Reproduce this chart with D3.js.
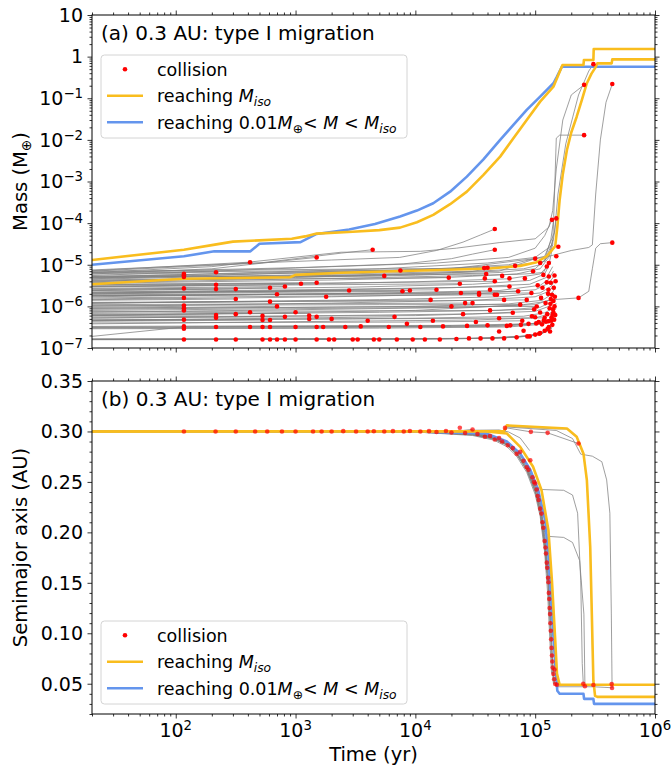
<!DOCTYPE html>
<html><head><meta charset="utf-8">
<script src="https://cdn.jsdelivr.net/npm/d3@7"></script>
<style>body{margin:0;background:#fff}svg{font-family:"DejaVu Sans",sans-serif}</style>
</head><body><svg id="c" width="672" height="769"></svg>
<script>
// ---------------- data ----------------
const X_DOMAIN = [20, 1e6];
const M_DOMAIN = [1e-7, 10];
const A_DOMAIN = [0.02, 0.35];
const X_TICK_EXP = [2, 3, 4, 5, 6];
const M_TICK_EXP = [-7, -6, -5, -4, -3, -2, -1, 0, 1];
const A_TICKS = [0.05, 0.10, 0.15, 0.20, 0.25, 0.30, 0.35];
const TITLES = ["(a) 0.3 AU: type I migration", "(b) 0.3 AU: type I migration"];

// Panel (a): mass [time(yr), mass(M_earth)]
const YEL1_M = [[20,1.3e-5],[117,2.3e-5],[206,3.0e-5],[300,3.6e-5],[930,4.2e-5],[1200,4.8e-5],[1500,5.6e-5],[3000,6.2e-5],[5000,6.8e-5],[7450,7.8e-5],[1.03e4,1.05e-4],[1.41e4,1.58e-4],[1.95e4,2.85e-4],[2.69e4,5.7e-4],[3.7e4,1.44e-3],[5.1e4,3.96e-3],[6.58e4,1.09e-2],[8.5e4,0.0301],[1.1e5,0.083],[1.42e5,0.19],[1.56e5,0.363],[1.69e5,0.63],[2.53e5,0.63],[2.55e5,0.83],[3.06e5,0.83],[3.08e5,1.53],[1e6,1.53]];
const YEL2_M = [[20,3.4e-6],[117,4.6e-6],[900,5.0e-6],[1000,5.7e-6],[2400,6.4e-6],[1.6e4,7.5e-6],[4.2e4,8.1e-6],[7.5e4,9.4e-6],[1.03e5,1.15e-5],[1.25e5,1.6e-5],[1.47e5,2.8e-5],[1.53e5,8e-5],[1.6e5,3.6e-4],[1.7e5,1.5e-3],[1.84e5,5.7e-3],[2.0e5,0.015],[2.22e5,0.036],[2.45e5,0.09],[2.7e5,0.23],[2.95e5,0.39],[3.16e5,0.53],[3.3e5,0.69],[4.35e5,0.69],[4.4e5,0.86],[1e6,0.86]];
const BLUE_M = [[20,1.0e-5],[117,1.6e-5],[210,2.1e-5],[420,2.1e-5],[500,3.2e-5],[1100,3.5e-5],[1500,5.5e-5],[2800,7.0e-5],[4600,9.5e-5],[7450,1.44e-4],[1.03e4,2.0e-4],[1.41e4,3.0e-4],[1.95e4,5.7e-4],[2.69e4,1.31e-3],[3.7e4,3.4e-3],[5.1e4,1.0e-2],[6.58e4,0.0229],[8.5e4,0.0524],[1.1e5,0.109],[1.42e5,0.229],[1.52e5,0.33],[1.67e5,0.57],[1e6,0.57]];
const GRAY_M = [
 [[20,7.5e-6],[200,1.0e-5],[2e3,1.3e-5],[7.4e3,1.5e-5],[1.5e4,2.2e-5],[2.5e4,3.5e-5],[3.5e4,5.2e-5],[4.6e4,7.2e-5]],
 [[20,6.5e-6],[1e3,8.5e-6],[8e3,1.05e-5],[2e4,1.4e-5],[3e4,1.8e-5],[4.6e4,2.3e-5]],
 [[20,6.0e-6],[200,8.0e-6],[700,1.2e-5],[1.5e3,1.5e-5]],
 [[20,7.0e-6],[500,1.1e-5],[2.4e3,1.9e-5],[4.4e3,2.3e-5]],
 [[20,7.2e-6],[400,1.15e-5],[2.4e3,2.0e-5],[1.1e4,2.1e-5],[2.2e4,2.5e-5],[5e4,3.4e-5],[1.0e5,4.2e-5],[1.3e5,8e-5],[1.4e5,2e-4],[1.5e5,2e-3],[1.7e5,0.03],[2.0e5,0.12],[2.56e5,0.21]],
 [[20,5.5e-6],[2e3,9e-6],[1.5e4,1.1e-5],[6e4,1.5e-5],[1.0e5,2.5e-5],[1.2e5,5e-5],[1.38e5,1.2e-4]],
 [[20,5.0e-6],[5e3,8e-6],[4e4,1.1e-5],[1.0e5,1.5e-5],[1.4e5,3e-5],[1.45e5,5e-4],[1.5e5,0.011],[1.6e5,0.013],[2.56e5,0.013]],
 [[20,4.8e-6],[1e4,7.5e-6],[6e4,1.0e-5],[1.2e5,1.6e-5],[1.45e5,6e-5],[1.55e5,5e-4],[1.8e5,8e-3],[2.3e5,0.12],[2.8e5,0.45],[3.06e5,0.66]],
 [[20,4.5e-6],[3e4,7e-6],[1.2e5,1.2e-5],[1.42e5,4e-5],[1.5e5,1.3e-4]],
 [[20,6.0e-7],[1e4,8e-7],[8e4,1.1e-6],[1.1e5,1.25e-6],[1.4e5,1.45e-6],[2.3e5,1.6e-6],[2.8e5,2.3e-6],[3.0e5,8e-6],[3.2e5,2.5e-5],[3.5e5,3.2e-5],[4.4e5,3.4e-5]],
 [[20,5.2e-6],[2e4,8e-6],[1.2e5,1.5e-5],[2.0e5,2.2e-5],[2.8e5,2.6e-5],[3.0e5,3e-5],[3.2e5,5e-4],[3.5e5,0.01],[3.9e5,0.08],[4.4e5,0.22]],
 [[20,4.0e-6],[2e3,5.5e-6],[2e4,6.5e-6],[8e4,8e-6],[1.1e5,1.0e-5],[1.3e5,1.6e-5],[1.4e5,3e-5]],
 [[20,3.9e-6],[1e3,5.0e-6],[1e4,6.0e-6],[5e4,7e-6],[1.0e5,1.4e-5]],
 [[20,4.6e-6],[500,6e-6],[5e3,7e-6],[3e4,8.5e-6],[6.8e4,9.4e-6]],
 [[20,3.7e-6],[3e3,4.8e-6],[3e4,5.5e-6],[8.2e4,6e-6],[1.17e5,6.5e-6],[1.3e5,1.1e-5]],
 [[20,4.3e-6],[1e3,5.0e-6],[1e4,5.6e-6],[5e4,6.5e-6],[1e5,8.0e-6],[1.2e5,1.3e-5],[1.35e5,4e-5],[1.42e5,1.1e-4]],
 [[20,3.6e-6],[2e3,4.3e-6],[2e4,5.0e-6],[7e4,6e-6],[1.1e5,8e-6],[1.3e5,1.5e-5],[1.4e5,4e-5]],
 [[20,2.9e-6],[1e3,3.4e-6],[1e4,3.9e-6],[6e4,4.6e-6],[1.1e5,6e-6],[1.3e5,1.0e-5],[1.38e5,2.2e-5]],
 [[20,2.4e-6],[3e3,2.9e-6],[3e4,3.4e-6],[9e4,4.2e-6],[1.2e5,6e-6],[1.35e5,1.2e-5]],
 [[20,2.0e-6],[1e3,2.4e-6],[2e4,2.8e-6],[9e4,3.4e-6],[1.25e5,5e-6],[1.4e5,9e-6]],
 [[20,1.7e-6],[5e3,2.1e-6],[5e4,2.4e-6],[1.1e5,3.2e-6],[1.3e5,4.5e-6],[1.42e5,7e-6]],
 [[20,1.45e-6],[2e3,1.7e-6],[3e4,2.0e-6],[1e5,2.5e-6],[1.3e5,3.6e-6],[1.45e5,5.5e-6]],
 [[20,1.2e-6],[5e3,1.45e-6],[5e4,1.7e-6],[1.1e5,2.1e-6],[1.35e5,3e-6],[1.45e5,4e-6]],
 [[20,1.0e-6],[2e3,1.2e-6],[3e4,1.4e-6],[1e5,1.7e-6],[1.3e5,2.3e-6],[1.45e5,3.2e-6]],
 [[20,8.5e-7],[1e4,1.0e-6],[6e4,1.15e-6],[1.15e5,1.4e-6],[1.35e5,1.9e-6],[1.45e5,2.6e-6]],
 [[20,7.2e-7],[1e3,8.3e-7],[3e4,9.5e-7],[1e5,1.1e-6],[1.3e5,1.4e-6],[1.46e5,2e-6]],
 [[20,6.2e-7],[5e3,7.2e-7],[5e4,8e-7],[1.1e5,9.5e-7],[1.35e5,1.25e-6],[1.48e5,1.7e-6]],
 [[20,5.2e-7],[2e3,6.0e-7],[3e4,6.6e-7],[1e5,7.6e-7],[1.3e5,1.0e-6],[1.48e5,1.4e-6]],
 [[20,4.5e-7],[1e4,5.2e-7],[8e4,5.8e-7],[1.2e5,7e-7],[1.4e5,9e-7],[1.5e5,1.2e-6]],
 [[20,3.8e-7],[1e3,4.3e-7],[3e4,4.7e-7],[1e5,5.3e-7],[1.3e5,6.5e-7],[1.5e5,9e-7]],
 [[20,3.2e-7],[1e4,3.3e-7],[8e4,3.6e-7],[1.2e5,4.3e-7],[1.4e5,5.5e-7],[1.5e5,7e-7]],
 [[20,3.1e-7],[2e3,3.2e-7],[4e4,3.4e-7],[1e5,3.9e-7],[1.3e5,4.8e-7],[1.45e5,6.2e-7]],
 [[20,2.9e-7],[5e3,3.0e-7],[6e4,3.2e-7],[1.1e5,3.7e-7],[1.35e5,4.6e-7],[1.48e5,6e-7]],
 [[20,1.9e-7],[117,3.2e-7],[1e3,3.3e-7],[2e4,3.4e-7]],
 [[20,1.62e-7],[1e4,1.65e-7],[5e4,1.75e-7],[9e4,1.95e-7],[1.15e5,2.4e-7],[1.3e5,3.2e-7],[1.4e5,4.2e-7]],
 [[20,1.6e-7],[2e4,1.65e-7],[7e4,1.8e-7],[1.1e5,2.1e-7],[1.3e5,2.7e-7],[1.42e5,3.5e-7]],
 [[20,1.58e-7],[3e3,1.62e-7],[4e4,1.7e-7],[1e5,2e-7],[1.25e5,2.5e-7],[1.38e5,3e-7]],
 [[20,1.6e-7],[500,1.6e-7],[2e3,1.62e-7],[1e4,1.64e-7]],
 [[20,2.2e-6],[3e3,2.6e-6],[3e4,2.9e-6],[6.1e4,3.0e-6]],
 [[20,1.9e-6],[1e3,2.0e-6],[1e4,2.1e-6],[7.2e4,2.3e-6]],
 [[20,9e-7],[1e3,9.5e-7],[2e4,1.0e-6],[1.03e5,9.9e-7]],
 [[20,7.5e-7],[5e3,7.8e-7],[4.2e4,8e-7],[9.8e4,8.5e-7]],
 [[20,5.6e-7],[1e4,6e-7],[6.5e4,7e-7]],
 [[20,4.8e-7],[3e3,5e-7],[5e4,5.2e-7],[1.2e5,5.3e-7]],
 [[20,4.0e-7],[1e4,4.2e-7],[7.8e4,4.5e-7]],
 [[20,3.3e-7],[2e4,3.5e-7],[8.8e4,3.8e-7]],
 [[20,3.0e-7],[1e3,3.05e-7],[5e4,3.3e-7],[1.2e5,4e-7],[1.4e5,5e-7]],
 [[20,1.65e-7],[3e4,1.7e-7],[8e4,1.9e-7],[1.2e5,2.4e-7],[1.35e5,3e-7]],
 [[20,1.63e-7],[1e4,1.66e-7],[5e4,1.72e-7],[1e5,2.05e-7]],
 [[20,3.3e-6],[1e3,3.6e-6],[4.6e4,4.0e-6]],
 [[20,1.25e-6],[1e4,1.35e-6],[8.5e4,1.43e-6]],
 [[20,1.05e-6],[5e3,1.1e-6],[7.5e4,1.1e-6]],
 [[20,1.8e-6],[2e4,2.0e-6],[9.3e4,2.1e-6]],
 [[20,6.0e-6],[117,6.1e-6]],[[20,5.3e-6],[117,5.5e-6]],[[20,2.5e-6],[117,2.7e-6]],
 [[20,1.5e-6],[117,1.6e-6]],[[20,9.5e-7],[117,1.0e-6]],[[20,4.6e-7],[117,4.8e-7]],
 [[20,6.3e-6],[217,6.6e-6]],[[20,3.0e-6],[217,3.3e-6]],[[20,6.0e-7],[217,6.2e-7]],
 [[20,2.4e-6],[317,2.6e-6]],[[20,1.4e-6],[317,1.5e-6]],[[20,6.5e-6],[200,9e-6],[417,1.15e-5]],
 [[20,6.8e-7],[417,7.2e-7]],[[20,2.6e-6],[612,2.8e-6]],[[20,1.2e-6],[612,1.3e-6]],
 [[20,4.4e-7],[612,4.7e-7]],[[20,1.8e-6],[700,1.95e-6]],[[20,9e-7],[700,1.0e-6]],
 [[20,2.7e-6],[815,3.0e-6]],[[20,5.3e-7],[815,5.6e-7]],[[20,3.2e-6],[1110,3.5e-6]],
 [[20,3.4e-6],[1500,3.7e-6]],[[20,6.4e-7],[1300,6.8e-7]],[[20,2.1e-6],[2800,2.4e-6]],
 [[20,5.0e-6],[5500,5.4e-6]],[[20,6.6e-6],[7500,7.3e-6]],[[20,2.0e-6],[7800,2.3e-6]],
 [[20,2.1e-6],[9000,2.4e-6]],[[20,1.2e-6],[1.34e4,1.43e-6]],[[20,4.6e-7],[6700,5.6e-7]],
 [[20,4.2e-6],[1.9e4,4.9e-6]],[[20,3.0e-6],[2.35e4,3.5e-6]],[[20,7.0e-6],[3.75e4,8.3e-6]],
 [[20,5.0e-6],[3.95e4,6.0e-6]],[[20,1.8e-6],[3.4e4,2.1e-6]],[[20,1.6e-6],[4.6e4,1.9e-6]],
 [[20,8e-7],[2e4,9.5e-7]],[[20,2.2e-6],[1.5e4,2.5e-6]],[[20,1.1e-6],[3e4,1.2e-6]]
];
const DOTS_M = [
 [117,6.1e-6],[117,5.6e-6],[117,5.1e-6],[117,2.7e-6],[117,1.6e-6],[117,1.05e-6],[117,9.0e-7],[117,8.0e-7],[117,4.8e-7],[117,3.3e-7],[117,2.9e-7],[117,1.6e-7],
 [217,6.6e-6],[217,3.3e-6],[217,2.6e-6],[217,6.2e-7],[217,5.3e-7],[217,3.2e-7],[217,1.6e-7],
 [317,2.6e-6],[317,1.5e-6],[317,6.5e-7],[317,1.6e-7],[417,1.15e-5],[417,7.2e-7],[417,3.2e-7],
 [530,5.9e-7],[530,4.7e-7],[530,3.2e-7],[530,1.6e-7],[612,2.8e-6],[612,1.3e-6],[612,4.7e-7],[612,3.2e-7],[612,1.6e-7],
 [700,1.95e-6],[700,1.0e-6],[700,1.6e-7],[815,3.0e-6],[815,5.6e-7],[815,1.6e-7],
 [1000,7.2e-7],[1000,3.2e-7],[1000,1.6e-7],[1110,3.5e-6],[1300,6.0e-7],[1300,5.0e-7],
 [1500,1.5e-5],[1500,3.7e-6],[1500,5.6e-7],[1500,3.2e-7],[1500,1.6e-7],
 [1700,3.2e-7],[1800,1.7e-6],[1900,1.6e-7],[2000,5.0e-7],[2100,1.6e-7],
 [2600,3.2e-7],[2800,2.4e-6],[3000,1.6e-7],[3300,1.6e-7],[3500,3.3e-7],[4000,4.5e-7],[4400,2.3e-5],[4500,1.6e-7],[5000,1.6e-7],[5500,5.4e-6],[6000,3.2e-7],[6700,5.6e-7],[7000,1.6e-7],[7500,7.3e-6],[7800,2.3e-6],[8500,3.8e-7],[9000,2.4e-6],[9500,1.6e-7],
 [1.1e4,3.2e-7],[1.2e4,1.6e-7],[1.34e4,1.43e-6],[1.4e4,4.5e-7],[1.5e4,2.5e-6],[1.6e4,1.6e-7],[1.7e4,3.3e-7],[1.9e4,4.9e-6],[2.0e4,1.0e-6],[2.2e4,1.65e-7],[2.35e4,3.5e-6],[2.4e4,2.1e-6],[2.5e4,6.5e-7],[2.6e4,1.2e-6],[2.7e4,3.4e-7],[2.8e4,1.7e-7],[3.0e4,1.2e-6],[3.2e4,4.2e-7],[3.4e4,1.9e-6],[3.4e4,2.1e-6],[3.5e4,1.7e-7],[3.75e4,8.3e-6],[3.8e4,4.7e-6],[3.9e4,6.0e-6],[4.0e4,8.5e-6],[4.0e4,3.5e-7],[4.2e4,2.5e-6],[4.2e4,8e-7],[4.4e4,1.7e-7],[4.6e4,2.3e-5],[4.6e4,7.2e-5],[4.6e4,1.9e-6],[4.6e4,4.0e-6],[4.8e4,1.9e-6],
 [5.0e4,2.5e-7],[5.0e4,5.2e-7],[5.3e4,5.4e-6],[5.5e4,1.43e-6],[5.5e4,1.7e-7],[5.8e4,3.4e-7],[6.1e4,4.7e-6],[6.1e4,3.0e-6],[6.2e4,3.5e-7],[6.5e4,7e-7],[6.8e4,9.4e-6],[7.0e4,1.8e-7],[7.2e4,2.3e-6],[7.5e4,1.1e-6],[7.6e4,3.6e-7],[7.8e4,4.5e-7],[8.0e4,2.6e-7],[8.2e4,4.7e-6],[8.5e4,1.43e-6],[8.6e4,1.9e-7],[8.8e4,3.8e-7],[9.0e4,1.9e-7],[9.3e4,2.1e-6],[9.4e4,5.8e-7],[9.6e4,7e-6],[9.8e4,8.5e-7],
 [1.0e5,1.4e-5],[1.0e5,2.1e-7],[1.0e5,5.5e-7],[1.02e5,3.9e-7],[1.03e5,9.9e-7],[1.05e5,3.2e-6],[1.07e5,4.2e-7],[1.08e5,2.2e-7],[1.1e5,1.1e-5],[1.1e5,7.1e-7],[1.1e5,2.3e-7],[1.12e5,1.6e-6],[1.14e5,3.7e-7],[1.15e5,2.8e-6],[1.17e5,5.7e-6],[1.18e5,4.6e-7],[1.2e5,5.3e-7],[1.2e5,2.6e-7],[1.22e5,1.2e-6],[1.23e5,4.3e-7],[1.25e5,9.1e-6],[1.25e5,3.8e-6],[1.26e5,6.5e-7],[1.27e5,2.9e-7],[1.28e5,2.0e-6],[1.29e5,2.5e-6],[1.29e5,4.4e-7],[1.3e5,1.1e-5],[1.3e5,5.2e-6],[1.3e5,3.2e-7],[1.32e5,9e-7],[1.33e5,2.5e-7],[1.34e5,1.15e-6],[1.35e5,3.7e-6],[1.35e5,1.5e-6],[1.36e5,4.5e-7],[1.37e5,5.5e-7],[1.38e5,1.9e-6],[1.38e5,1.2e-4],[1.39e5,3.6e-7],[1.4e5,6.5e-7],[1.41e5,8.5e-7],[1.42e5,1.35e-6],[1.42e5,7.1e-7],[1.43e5,2.8e-6],[1.44e5,4.8e-7],[1.45e5,5.5e-6],[1.45e5,1.0e-6],[1.46e5,1.7e-6],[1.47e5,6.2e-7],[1.48e5,4.0e-6],[1.5e5,1.6e-5],[1.5e5,1.3e-4],[1.56e5,2.7e-5],
 [2.3e5,1.6e-6],[2.56e5,0.013],[2.56e5,0.21],[3.06e5,0.66],[4.4e5,0.22],[4.4e5,3.4e-5]
];

// Panel (b): semimajor axis [time(yr), a(AU)]
const YEL1_A = [[20,0.300],[3.9e4,0.300],[5.8e4,0.298],[7.5e4,0.2847],[9.6e4,0.265],[1.13e5,0.2417],[1.29e5,0.202],[1.38e5,0.152],[1.47e5,0.093],[1.52e5,0.060],[1.6e5,0.049],[1e6,0.049]];
const YEL2_A = [[20,0.300],[5.5e4,0.3005],[5.8e4,0.306],[1.84e5,0.303],[2.22e5,0.2947],[2.53e5,0.278],[2.7e5,0.2517],[2.88e5,0.1854],[2.97e5,0.119],[3.06e5,0.053],[3.16e5,0.038],[3.3e5,0.037],[1e6,0.037]];
const BLUE_A = [[20,0.300],[1e4,0.300],[3.9e4,0.298],[5.8e4,0.290],[7.5e4,0.278],[9.1e4,0.262],[1.06e5,0.242],[1.21e5,0.212],[1.29e5,0.176],[1.38e5,0.119],[1.47e5,0.070],[1.53e5,0.043],[1.6e5,0.040],[2.53e5,0.040],[2.56e5,0.035],[3.06e5,0.035],[3.1e5,0.030],[1e6,0.030]];
const GRAY_A = [
 [[20,0.300],[117,0.300]],[[20,0.300],[317,0.300]],[[20,0.300],[1.4e3,0.300]],[[20,0.300],[4.5e3,0.300]],[[20,0.300],[1.1e4,0.300]],
 [[20,0.300],[2.35e4,0.3005],[3e4,0.302]],
 [[20,0.300],[1e4,0.3002],[3e4,0.3012],[5e4,0.3015],[6e4,0.2995],[7.5e4,0.2935],[9e4,0.281]],
 [[20,0.300],[1e4,0.2995],[3e4,0.2965],[4.5e4,0.2925],[5.8e4,0.2865],[7e4,0.2775],[8.5e4,0.262],[1e5,0.241],[1.1e5,0.221],[1.2e5,0.188],[1.28e5,0.148],[1.34e5,0.098],[1.39e5,0.064],[1.42e5,0.050]],
 [[20,0.300],[1e4,0.300],[3e4,0.2975],[4.5e4,0.294],[5.8e4,0.288],[7e4,0.2795],[8.5e4,0.265],[1e5,0.245],[1.1e5,0.226],[1.2e5,0.196],[1.28e5,0.158],[1.35e5,0.105],[1.4e5,0.068],[1.44e5,0.050],[1.5e5,0.049],[2.55e5,0.049]],
 [[20,0.300],[1e4,0.300],[3e4,0.298],[4.5e4,0.2935],[5.8e4,0.2875],[7e4,0.279],[8.5e4,0.2645],[1e5,0.244]],
 [[20,0.300],[1e4,0.2998],[3e4,0.2978],[4.5e4,0.2945],[5.8e4,0.289],[7e4,0.281],[8e4,0.272]],
 [[20,0.300],[1e4,0.300],[3e4,0.2985],[4.5e4,0.2955],[5.8e4,0.2895]],
 [[20,0.300],[1e4,0.300],[2.5e4,0.2985],[3.8e4,0.2947]],
 [[20,0.300],[1e4,0.2995],[3e4,0.296],[4.5e4,0.2915],[5.8e4,0.285],[7e4,0.2755],[8.5e4,0.2595],[1e5,0.2375],[1.1e5,0.216],[1.2e5,0.180],[1.27e5,0.140],[1.33e5,0.090],[1.37e5,0.060]],
 [[20,0.300],[1e4,0.2998],[3e4,0.2968],[4.5e4,0.2928],[5.8e4,0.2868],[7e4,0.2772],[8.5e4,0.2615],[1e5,0.240],[1.1e5,0.219],[1.2e5,0.185],[1.25e5,0.160]],
 [[20,0.300],[1e4,0.300],[3e4,0.2972],[4.5e4,0.2935],[5.8e4,0.2878],[7e4,0.2785],[8.5e4,0.2635],[1e5,0.2425],[1.1e5,0.2235],[1.2e5,0.192],[1.26e5,0.165]],
 [[20,0.300],[1e4,0.300],[3e4,0.297],[4.5e4,0.293],[5.8e4,0.2868],[7e4,0.2778],[8.5e4,0.2625],[1e5,0.2415],[1.1e5,0.2215],[1.2e5,0.189],[1.28e5,0.150],[1.33e5,0.119]],
 [[20,0.300],[1e4,0.300],[3e4,0.2982],[4.5e4,0.295],[5.8e4,0.2895],[7e4,0.2815],[8.5e4,0.2675],[1e5,0.2475],[1.1e5,0.229],[1.2e5,0.200],[1.28e5,0.162],[1.35e5,0.110],[1.4e5,0.072],[1.45e5,0.052],[1.5e5,0.047],[3.06e5,0.047],[4.4e5,0.046]],
 [[20,0.300],[1e4,0.300],[3e4,0.2982],[4.5e4,0.295],[5.8e4,0.2895],[7e4,0.2815],[8.5e4,0.2675],[1e5,0.2475],[1.12e5,0.2425],[1.73e5,0.2417],[2.05e5,0.237],[2.26e5,0.219],[2.4e5,0.152],[2.47e5,0.070],[2.52e5,0.050]],
 [[20,0.300],[1e4,0.300],[3e4,0.2982],[4.5e4,0.295],[5.8e4,0.2895],[7e4,0.2815],[8.5e4,0.2675],[1e5,0.2475],[1.1e5,0.229],[1.2e5,0.2005],[1.3e5,0.196],[1.73e5,0.195],[2.05e5,0.190],[2.35e5,0.172],[2.55e5,0.119],[2.6e5,0.050]],
 [[20,0.300],[5.6e4,0.3005],[5.7e4,0.3045],[1.5e5,0.301],[2.05e5,0.293],[2.4e5,0.2775],[3.0e5,0.2755],[3.6e5,0.270],[3.95e5,0.252],[4.2e5,0.219],[4.32e5,0.120],[4.38e5,0.050],[4.4e5,0.0457]],
 [[20,0.300],[5.6e4,0.3005],[5.7e4,0.305],[1.5e5,0.3025],[1.84e5,0.3025],[2.22e5,0.294],[2.53e5,0.277],[2.7e5,0.251],[2.88e5,0.185],[2.97e5,0.119],[3.04e5,0.052],[3.1e5,0.048]],
 [[20,0.300],[5.6e4,0.300],[5.8e4,0.3035],[9.2e4,0.2996],[1.27e5,0.2986],[2.3e5,0.288]]
];
const DOTS_A = [
 [117,0.300],[215,0.300],[317,0.300],[460,0.300],[580,0.300],[770,0.300],[1000,0.300],[1400,0.300],[1650,0.300],[2000,0.300],[2500,0.3003],[3200,0.300],[4000,0.300],[4500,0.3002],[5500,0.300],[6500,0.3003],[8000,0.300],[9000,0.3005],[1.1e4,0.300],[1.3e4,0.3003],[1.5e4,0.2995],[1.8e4,0.3005],[2.0e4,0.299],
 [2.35e4,0.3036],[2.6e4,0.2985],[3.0e4,0.302],[3.3e4,0.2975],[3.8e4,0.2947],[4.2e4,0.2955],[4.6e4,0.292],[5.0e4,0.2935],[5.3e4,0.290],[5.6e4,0.3035],[5.9e4,0.2864],[6.5e4,0.2835],[7.0e4,0.2778],[7.5e4,0.2798],[8.0e4,0.271],[8.5e4,0.2645],[8.8e4,0.262],[9.1e4,0.2715],[9.2e4,0.2996],[9.5e4,0.2545],[9.8e4,0.250],[1.0e5,0.2484],[1.03e5,0.2425],[1.05e5,0.236],[1.07e5,0.232],[1.1e5,0.2235],[1.13e5,0.2186],[1.15e5,0.210],[1.17e5,0.2045],[1.2e5,0.1915],[1.22e5,0.185],[1.23e5,0.179],[1.25e5,0.170],[1.26e5,0.165],[1.27e5,0.2986],[1.28e5,0.155],[1.29e5,0.1505],[1.3e5,0.140],[1.31e5,0.134],[1.32e5,0.125],[1.33e5,0.119],[1.34e5,0.110],[1.35e5,0.1025],[1.36e5,0.094],[1.37e5,0.0855],[1.38e5,0.078],[1.39e5,0.072],[1.4e5,0.066],[1.42e5,0.0596],[1.44e5,0.0545],[1.45e5,0.064],[1.47e5,0.0497],[1.52e5,0.049],
 [2.3e5,0.288],[2.52e5,0.050],[2.6e5,0.0475],[3.06e5,0.0487],[4.35e5,0.0497],[4.38e5,0.0457]
];

// ---------------- layout & style ----------------
const L = 92, R = 655;
const PA = {top: 15, bot: 348}, PB = {top: 381, bot: 714};
const YELLOW = "#f9bd1e", BLUE = "#6495ed", GRAY = "#808080", RED = "#ff0000";
const FONT_TICK = 19, FONT_LAB = 19.5, FONT_TITLE = 20, FONT_LEG = 17.5;

const svg = d3.select("#c");
const x = d3.scaleLog().domain(X_DOMAIN).range([L, R]);
const yM = d3.scaleLog().domain(M_DOMAIN).range([PA.bot, PA.top]);
const yA = d3.scaleLinear().domain(A_DOMAIN).range([PB.bot, PB.top]);

const defs = svg.append("defs");
[["clipA", PA], ["clipB", PB]].forEach(([id, p]) => {
  defs.append("clipPath").attr("id", id).append("rect")
    .attr("x", L).attr("y", p.top).attr("width", R - L).attr("height", p.bot - p.top);
});

function panel(clipId, y, grays, yel1, yel2, blue, dots, dotOpacity) {
  const g = svg.append("g").attr("clip-path", `url(#${clipId})`);
  const line = d3.line().x(d => x(d[0])).y(d => y(d[1]));
  g.selectAll("path.gray").data(grays).join("path").attr("class", "gray")
    .attr("d", line).attr("fill", "none").attr("stroke", GRAY)
    .attr("stroke-width", 0.95).attr("stroke-opacity", 0.8);
  [[blue, BLUE], [yel2, YELLOW], [yel1, YELLOW]].forEach(([d, c]) => {
    g.append("path").datum(d).attr("d", line).attr("fill", "none")
      .attr("stroke", c).attr("stroke-width", 2.6).attr("stroke-linejoin", "round");
  });
  g.selectAll("circle").data(dots).join("circle")
    .attr("cx", d => x(d[0])).attr("cy", d => y(d[1])).attr("r", 2.3)
    .attr("fill", RED).attr("fill-opacity", dotOpacity);
}
panel("clipA", yM, GRAY_M, YEL1_M, YEL2_M, BLUE_M, DOTS_M, 1);
panel("clipB", yA, GRAY_A, YEL1_A, YEL2_A, BLUE_A, DOTS_A, 0.7);

// ---------------- ticks ----------------
function tickSet(axisFn, scale, vals, size, tx, ty) {
  const a = axisFn(scale).tickValues(vals).tickSize(size).tickFormat(() => "");
  const s = svg.append("g").attr("transform", `translate(${tx},${ty})`).call(a);
  s.select(".domain").remove();
  s.selectAll("line").attr("stroke", "#000").attr("stroke-width", 0.8);
  s.selectAll("text").remove();
}
const xMaj = X_TICK_EXP.map(e => Math.pow(10, e));
const xMin = [];
for (let k = 1; k <= 5; k++) for (let j = 2; j <= 9; j++) { const v = j * Math.pow(10, k); if (v >= X_DOMAIN[0] && v <= X_DOMAIN[1]) xMin.push(v); }
const mMaj = M_TICK_EXP.map(e => Math.pow(10, e));
const mMin = [];
for (let k = -7; k <= 0; k++) for (let j = 2; j <= 9; j++) mMin.push(j * Math.pow(10, k));
const aMin = [];
for (let i = 2; i <= 35; i++) if (i % 5 !== 0) aMin.push(i / 100);

[PA, PB].forEach(p => {
  tickSet(d3.axisBottom, x, xMaj, 4.5, 0, p.bot);
  tickSet(d3.axisBottom, x, xMin, 2.5, 0, p.bot);
  tickSet(d3.axisTop, x, xMaj, 4.5, 0, p.top);
  tickSet(d3.axisTop, x, xMin, 2.5, 0, p.top);
});
tickSet(d3.axisLeft, yM, mMaj, 4.5, L, 0);
tickSet(d3.axisLeft, yM, mMin, 2.5, L, 0);
tickSet(d3.axisRight, yM, mMaj, 4.5, R, 0);
tickSet(d3.axisRight, yM, mMin, 2.5, R, 0);
tickSet(d3.axisLeft, yA, A_TICKS, 4.5, L, 0);
tickSet(d3.axisLeft, yA, aMin, 2.5, L, 0);
tickSet(d3.axisRight, yA, A_TICKS, 4.5, R, 0);
tickSet(d3.axisRight, yA, aMin, 2.5, R, 0);

// frames
[PA, PB].forEach(p => {
  svg.append("rect").attr("x", L).attr("y", p.top).attr("width", R - L).attr("height", p.bot - p.top)
    .attr("fill", "none").attr("stroke", "#000").attr("stroke-width", 1);
});

// ---------------- tick labels ----------------
function powLabel(sel, exp) {
  sel.append("tspan").text("10");
  sel.append("tspan").attr("dy", -7).attr("font-size", FONT_TICK * 0.7)
    .text(exp < 0 ? "\u2212" + (-exp) : String(exp));
}
X_TICK_EXP.forEach(e => {
  const t = svg.append("text").attr("x", x(Math.pow(10, e))).attr("y", 737)
    .attr("text-anchor", "middle").attr("font-size", FONT_TICK);
  powLabel(t, e);
});
M_TICK_EXP.forEach(e => {
  const t = svg.append("text").attr("x", L - 9).attr("y", yM(Math.pow(10, e)) + 6.8)
    .attr("text-anchor", "end").attr("font-size", FONT_TICK);
  if (e === 1) t.text("10"); else if (e === 0) t.text("1"); else powLabel(t, e);
});
A_TICKS.forEach(v => {
  svg.append("text").attr("x", L - 9).attr("y", yA(v) + 6.8)
    .attr("text-anchor", "end").attr("font-size", FONT_TICK).text(v.toFixed(2));
});

// ---------------- rich text helper ----------------
function rich(sel, parts, size) {
  let shift = 0;
  parts.forEach(p => {
    const target = p.sub ? 4 : 0;
    const ts = sel.append("tspan").text(p.t);
    if (target !== shift) { ts.attr("dy", target - shift); shift = target; }
    if (p.i) ts.attr("font-style", "italic");
    if (p.sub) ts.attr("font-size", size * 0.7);
  });
}

// axis labels
const ml = svg.append("text").attr("transform", `translate(27,${(PA.top + PA.bot) / 2}) rotate(-90)`)
  .attr("text-anchor", "middle").attr("font-size", FONT_LAB);
rich(ml, [{t: "Mass (M"}, {t: "\u2295", sub: true}, {t: ")"}], FONT_LAB);
svg.append("text").attr("transform", `translate(27,${(PB.top + PB.bot) / 2}) rotate(-90)`)
  .attr("text-anchor", "middle").attr("font-size", FONT_LAB).text("Semimajor axis (AU)");
svg.append("text").attr("x", (L + R) / 2).attr("y", 761).attr("text-anchor", "middle")
  .attr("font-size", FONT_LAB).text("Time (yr)");

// titles
svg.append("text").attr("x", 101).attr("y", 39.5).attr("font-size", FONT_TITLE).text(TITLES[0]);
svg.append("text").attr("x", 101).attr("y", 405.5).attr("font-size", FONT_TITLE).text(TITLES[1]);

// ---------------- legends ----------------
const LEG_LABELS = [
  [{t: "collision"}],
  [{t: "reaching "}, {t: "M", i: true}, {t: "iso", i: true, sub: true}],
  [{t: "reaching 0.01"}, {t: "M", i: true}, {t: "\u2295", sub: true}, {t: "< "}, {t: "M", i: true}, {t: " < "}, {t: "M", i: true}, {t: "iso", i: true, sub: true}]
];
function legend(top) {
  const g = svg.append("g");
  g.append("rect").attr("x", 101).attr("y", top).attr("width", 306).attr("height", 83)
    .attr("rx", 3.5).attr("fill", "#fff").attr("fill-opacity", 0.85)
    .attr("stroke", "#d4d4d4").attr("stroke-width", 1);
  const ys = [top + 14.3, top + 40.8, top + 67.3];
  g.append("circle").attr("cx", 125).attr("cy", ys[0]).attr("r", 2.3).attr("fill", RED);
  g.append("line").attr("x1", 107).attr("x2", 143).attr("y1", ys[1]).attr("y2", ys[1])
    .attr("stroke", YELLOW).attr("stroke-width", 2.6);
  g.append("line").attr("x1", 107).attr("x2", 143).attr("y1", ys[2]).attr("y2", ys[2])
    .attr("stroke", BLUE).attr("stroke-width", 2.6);
  LEG_LABELS.forEach((parts, i) => {
    const t = g.append("text").attr("x", 157).attr("y", ys[i] + 6.2).attr("font-size", FONT_LEG);
    rich(t, parts, FONT_LEG);
  });
}
legend(55);
legend(621);
</script></body></html>
